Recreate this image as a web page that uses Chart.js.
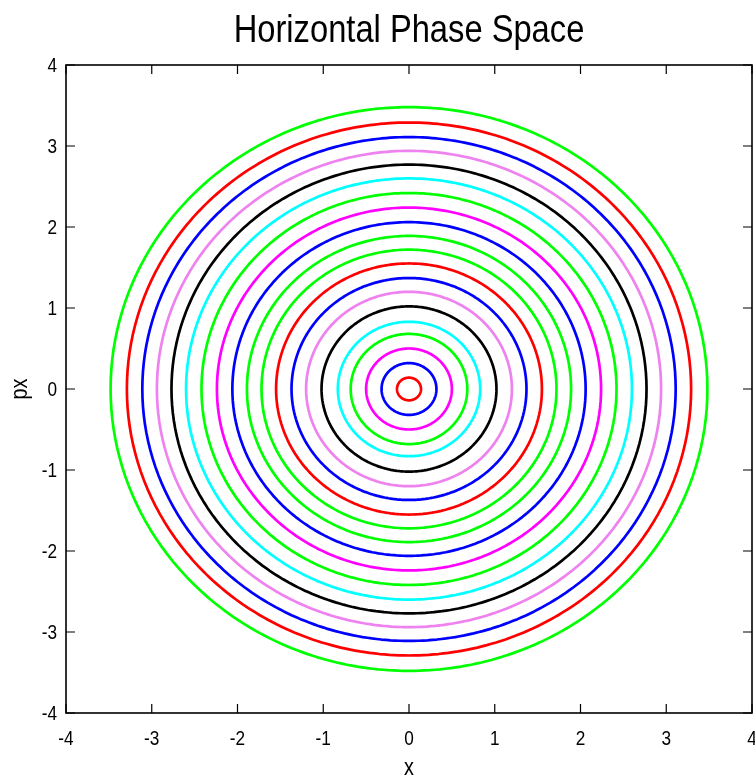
<!DOCTYPE html>
<html>
<head>
<meta charset="utf-8">
<script src="https://cdn.jsdelivr.net/npm/chart.js@4"></script>
<style>
  html,body{margin:0;padding:0;background:#fff}
  #wrap{width:755px;height:778px}
</style>
</head>
<body>
<div id="wrap"><canvas id="c"></canvas></div>
<script>
// ── DATA ──────────────────────────────────────────────────────
// orbit amplitudes, from the centre outwards
var radii =[0.14,0.32,0.50,0.68,0.83,1.02,1.20,1.37,1.55,1.72,1.89,2.06,2.24,2.42,2.60,2.77,2.94,3.11,3.29,3.48];
var colors=['#ff0000','#0000ff','#ff00ff','#00ff00','#00ffff','#000000','#ee82ee','#0000ff','#ff0000','#00ff00',
            '#00ff00','#0000ff','#ff00ff','#00ff00','#00ffff','#000000','#ee82ee','#0000ff','#ff0000','#00ff00'];
var xTicks=[-4,-3,-2,-1,0,1,2,3,4];
var yTicks=[-4,-3,-2,-1,0,1,2,3,4];
var title='Horizontal Phase Space';
var xTitle='x', yTitle='px';

var FONT='"Liberation Sans",Arial,sans-serif';
var NARROW=0.86; // no narrow face installed, squeeze the regular one

function orbit(r){
  var pts=[];
  for(var i=0;i<=180;i++){
    var t=i*2*Math.PI/180;
    pts.push({x:r*Math.cos(t),y:r*Math.sin(t)});
  }
  return pts;
}

function narrowText(c,txt,x,y){
  c.save();
  c.translate(x,y);c.scale(NARROW,1);
  c.fillText(txt,0,0);
  c.restore();
}

// gnuplot-like frame: border, inward mirrored ticks, labels, titles
var frame={
  id:'frame',
  afterDraw:function(ch){
    var c=ch.ctx,a=ch.chartArea,sx=ch.scales.x,sy=ch.scales.y,TL=9;
    c.save();
    c.strokeStyle='#000';c.lineWidth=1.6;
    c.strokeRect(a.left,a.top,a.right-a.left,a.bottom-a.top);
    c.lineWidth=1.2;
    c.beginPath();
    xTicks.forEach(function(v){
      var px=sx.getPixelForValue(v);
      c.moveTo(px,a.bottom);c.lineTo(px,a.bottom-TL);
      c.moveTo(px,a.top);c.lineTo(px,a.top+TL);
    });
    yTicks.forEach(function(v){
      var py=sy.getPixelForValue(v);
      c.moveTo(a.left,py);c.lineTo(a.left+TL,py);
      c.moveTo(a.right,py);c.lineTo(a.right-TL,py);
    });
    c.stroke();

    c.fillStyle='#000';
    c.font='20px '+FONT;
    c.textAlign='center';c.textBaseline='alphabetic';
    xTicks.forEach(function(v){ narrowText(c,String(v),sx.getPixelForValue(v),745); });
    c.textAlign='right';c.textBaseline='middle';
    yTicks.forEach(function(v){ narrowText(c,String(v),a.left-9,sy.getPixelForValue(v)+1); });

    c.font='38px '+FONT;
    c.textAlign='center';c.textBaseline='alphabetic';
    narrowText(c,title,409,42);

    c.font='23px '+FONT;
    narrowText(c,xTitle,409,775);
    c.save();
    c.translate(27,389);c.rotate(-Math.PI/2);
    narrowText(c,yTitle,0,0);
    c.restore();
    c.restore();
  }
};

new Chart(document.getElementById('c'),{
  type:'scatter',
  data:{
    datasets:radii.map(function(r,i){
      return {data:orbit(r),showLine:true,borderColor:colors[i],borderWidth:2.7,
              borderJoinStyle:'round',borderCapStyle:'round',
              pointRadius:0,fill:false,tension:0.01};
    })
  },
  options:{
    responsive:true,maintainAspectRatio:false,animation:false,
    layout:{padding:{left:66,right:3,top:65,bottom:65}},
    plugins:{legend:{display:false},tooltip:{enabled:false}},
    scales:{
      x:{type:'linear',display:false,min:-4,max:4},
      y:{type:'linear',display:false,min:-4,max:4}
    }
  },
  plugins:[frame]
});
</script>
</body>
</html>
